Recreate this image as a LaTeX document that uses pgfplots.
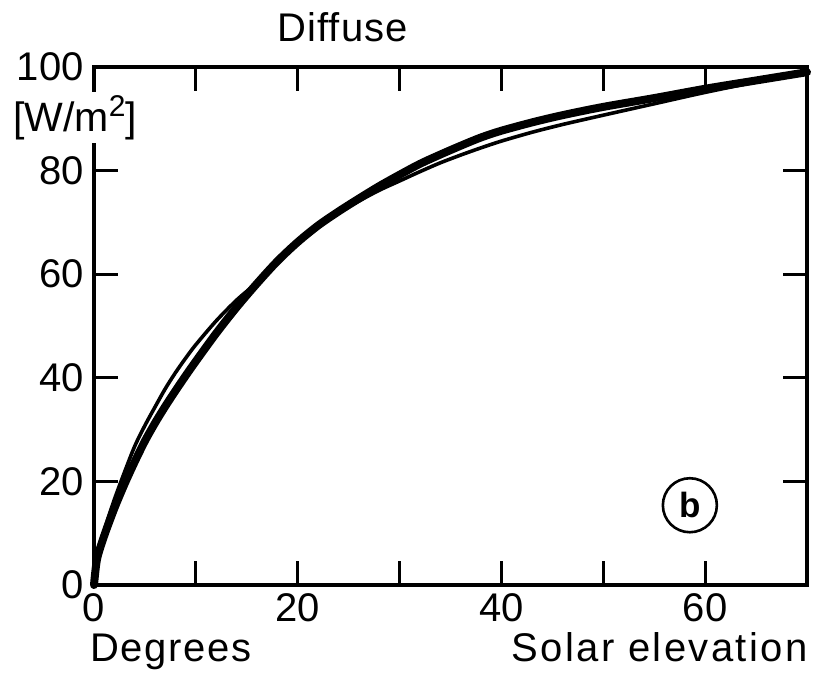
\documentclass[border=0pt]{standalone}
\usepackage{fontspec}
\setmainfont{Liberation Sans}
\usepackage{pgfplots}
\pgfplotsset{compat=1.18}
\begin{document}
\begin{tikzpicture}
\begin{axis}[
  scale only axis,
  width=356.5pt, height=259pt,
  xmin=0, xmax=70, ymin=0, ymax=100,
  clip=false,
  axis line style={line width=1.9pt},
  every tick/.style={line width=1.5pt, black},
  tick align=inside,
  major tick length=12pt,
  xtick={0,10,...,70},
  xticklabels={0,,20,,40,,60,},
  ytick={0,20,...,100},
  /pgf/number format/assume math mode=true,
  tick label style={font=\fontsize{20}{20}\selectfont},
  xticklabel style={inner sep=4pt},
  yticklabel style={inner sep=5pt},
]
\addplot[line width=4pt, line cap=round, line join=round, smooth, tension=0.5] coordinates {
(0,0) (0.3,5) (1,9.5) (2,14.8) (3,19.5) (4,23.8) (5,27.8) (6,31.3) (7,34.5) (8,37.5) (9,40.4) (10,43.2) (12,48.6) (14,53.6) (16,58.2) (18,62.5) (20,66.2) (22,69.4) (24,72.1) (26,74.6) (28,77.0) (30,79.2) (32,81.3) (34,83.1) (36,84.8) (38,86.4) (40,87.7) (43,89.3) (46,90.7) (50,92.3) (55,94.0) (60,95.8) (65,97.4) (70,99)
};
\addplot[line width=1.8pt, line cap=round, line join=round, smooth, tension=0.5] coordinates {
(0,0) (0.5,6) (1,10.5) (2,16.5) (3,21.8) (4,26.8) (5,30.8) (6,34.4) (7,37.9) (8,41) (9,43.8) (10,46.4) (12,51) (14,55) (16,58.4) (18,62.3) (20,65.9) (22,69.1) (24,71.8) (26,74.1) (28,76.2) (30,78.0) (32,79.8) (34,81.5) (36,83.0) (38,84.4) (40,85.7) (43,87.4) (46,88.9) (50,90.7) (55,92.9) (60,95.1) (65,97.1) (70,98.9)
};
\node[draw, circle, line width=1.3pt, minimum size=27pt, inner sep=0pt, font=\bfseries\fontsize{17.5}{18}\selectfont] at (axis cs:58.5,15.4) {b};
\coordinate (sw) at (rel axis cs:0,0);
\coordinate (ne) at (rel axis cs:1,1);
\coordinate (wm) at (axis cs:-1.86,90.2);
\coordinate (tt) at (axis cs:24.4,100);
\coordinate (dg) at (axis cs:0,0);
\coordinate (se) at (axis cs:70,0);
\end{axis}
\node[fill=white, inner sep=1.5pt, font=\fontsize{20.5}{21}\selectfont] at (wm) {[W/m\raisebox{0.38em}{\fontsize{15}{15}\selectfont 2}]};
\node[anchor=base, inner sep=0pt, font=\fontsize{20}{20}\selectfont\addfontfeatures{LetterSpace=3}] at ([yshift=12.5pt]tt) {Diffuse};
\node[anchor=base west, inner sep=0pt, font=\fontsize{20}{20}\selectfont\addfontfeatures{LetterSpace=4}] at ([shift={(-2pt,-38pt)}]dg) {Degrees};
\node[anchor=base east, inner sep=0pt, font=\fontsize{20}{20}\selectfont\addfontfeatures{LetterSpace=6}] at ([shift={(0.5pt,-38pt)}]se) {Solar elevation};
\pgfresetboundingbox
\path ([shift={(-47pt,-45.5pt)}]sw) rectangle ([shift={(4.5pt,33.5pt)}]ne);
\end{tikzpicture}
\end{document}
